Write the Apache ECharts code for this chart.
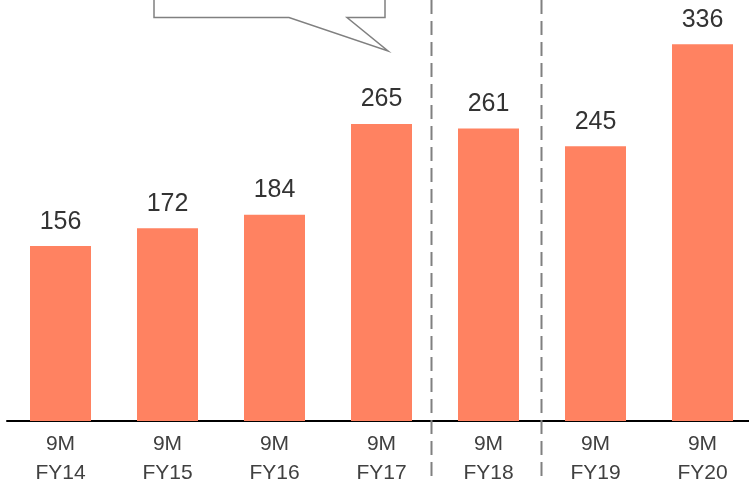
<!DOCTYPE html>
<html>
<head>
<meta charset="utf-8">
<script src="https://cdn.jsdelivr.net/npm/echarts@6/dist/echarts.min.js"></script>
<style>html,body{margin:0;padding:0;background:#fff}#c{width:749px;height:480px}</style>
</head>
<body>
<div id="c"></div>
<script>
const categories = ['9M\nFY14','9M\nFY15','9M\nFY16','9M\nFY17','9M\nFY18','9M\nFY19','9M\nFY20'];
const values = [156, 172, 184, 265, 261, 245, 336];
const separators = [3.46, 4.49]; // positions between categories (index units)

const chart = echarts.init(document.getElementById('c'));
const font = 'Liberation Sans, Arial, sans-serif';
chart.setOption({
  animation: false,
  grid: { left: 7, width: 749, top: -5, bottom: 59, containLabel: false, outerBoundsMode: 'none' },
  xAxis: [{
    type: 'category', data: categories,
    axisLine: { lineStyle: { color: '#000', width: 2 } },
    axisTick: { show: false },
    axisLabel: { fontFamily: font, fontSize: 21, color: '#404040', lineHeight: 29, margin: 9 }
  }, {
    type: 'value', min: -0.5, max: 6.5, show: false
  }],
  yAxis: { type: 'value', min: 0, max: 380, show: false },
  series: [{
    type: 'bar', data: values, barWidth: 61,
    itemStyle: { color: '#FF8261' },
    label: { show: true, position: 'top', distance: 12, fontFamily: font, fontSize: 25, color: '#333333' }
  }]
});

const gfx = separators.map(v => {
  const x = Math.round(chart.convertToPixel({ xAxisIndex: 1 }, v)) + 0.5;
  return { type: 'line', shape: { x1: x, y1: 0, x2: x, y2: 480 },
    style: { stroke: '#808080', lineWidth: 2, lineDash: [14, 7] }, z: 10 };
});
gfx.push({
  type: 'polyline',
  shape: { points: [[154, -5], [154, 17.5], [289, 17.5], [388, 51], [347, 17.5], [385, 17.5], [385, -5]] },
  style: { stroke: '#808080', lineWidth: 1.5, fill: '#fff' }, z: 10
});
chart.setOption({ graphic: gfx });
</script>
</body>
</html>
